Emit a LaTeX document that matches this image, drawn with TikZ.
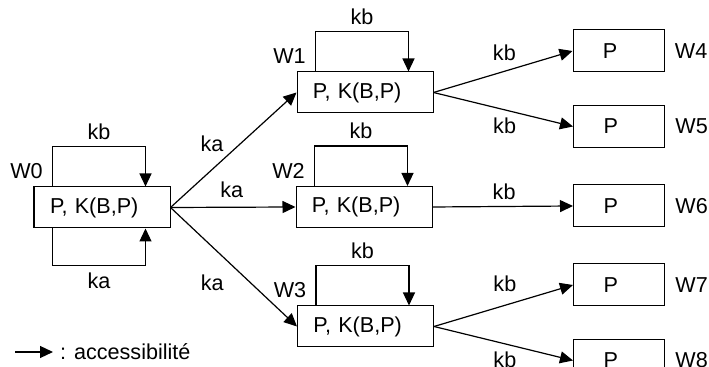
\documentclass[tikz,border=0pt]{standalone}
\usepackage{fontspec}
\setmainfont{Liberation Sans}
\usetikzlibrary{arrows.meta,positioning}

\tikzset{
  world/.style={draw,line width=0.5pt,text width=52pt,inner xsep=8pt,
    minimum height=20.5pt,align=left},
  leaf/.style={draw,line width=0.5pt,text width=15.5pt,inner xsep=15pt,
    minimum height=21pt,align=left},
  wname/.style={inner sep=0pt},
  acc/.style={->,line width=0.6pt}
}

\begin{document}
\begin{tikzpicture}[x=0.5pt,y=-0.5pt,>={Triangle[length=6.5pt,width=6pt]},
    font=\fontsize{10.8}{13}\selectfont]
  \useasboundingbox (0,0) rectangle (709,367);
  \clip (0,0) rectangle (709,367);

  % worlds
  \node[world] (w0) at (102,207.5) {P, K(B,P)};
  \node[world] (w1) at (365,92.5) {P, K(B,P)};
  \node[world] (w2) at (364,207) {P, K(B,P)};
  \node[world] (w3) at (365.5,326.5) {P, K(B,P)};
  \node[leaf] (w4) at (618.5,51) {P};
  \node[leaf] (w5) at (619,126.5) {P};
  \node[leaf] (w6) at (619,206) {P};
  \node[leaf] (w7) at (619,285) {P};
  \node[leaf] (w8) at (619,360.5) {P};

  % names
  \foreach \w in {0,1,2,3}
    \node at ([shift={(-3.5pt,7.5pt)}]w\w.north west) {W\w};
  \foreach \w in {4,...,8}
    \node[wname,right=5pt of w\w] {W\w};

  % reflexive loops
  \foreach \w in {0,1,2,3}
    \draw[acc] ([xshift=9.5pt]w\w.north west) -- ++(0pt,20pt)
      -| node[pos=0.25,above] {kb} ([xshift=56pt]w\w.north west);
  \draw[acc] ([xshift=9.5pt]w0.south west) -- ++(0pt,-18.5pt)
    -| node[pos=0.25,below] {ka} ([xshift=56pt]w0.south west);

  % accessibility for a
  \draw[acc] (w0.east) -- node[pos=0.33,yshift=13pt] {ka} (w1.west);
  \draw[acc] (w0.east) -- node[pos=0.49,yshift=8.5pt] {ka} (w2.west);
  \draw[acc] (w0.east) -- node[pos=0.33,yshift=-18pt] {ka} (w3.west);

  % accessibility for b
  \draw[acc] (w1.east) -- node[pos=0.51,yshift=9.5pt] {kb} (w4.west);
  \draw[acc] (w1.east) -- node[pos=0.51,yshift=-8pt] {kb} (w5.west);
  \draw[acc] (w2.east) -- node[pos=0.51,yshift=7.25pt] {kb} (w6.west);
  \draw[acc] (w3.east) -- node[pos=0.51,yshift=11pt] {kb} (w7.west);
  \draw[acc] (w3.east) -- node[pos=0.51,yshift=-8pt] {kb} (w8.west);

  % legend
  \node[right] (leg) at (53,352) {: accessibilité};
  \coordinate (legstart) at (15,352);
  \draw[acc] (legstart) -- (leg.west);
\end{tikzpicture}
\end{document}
